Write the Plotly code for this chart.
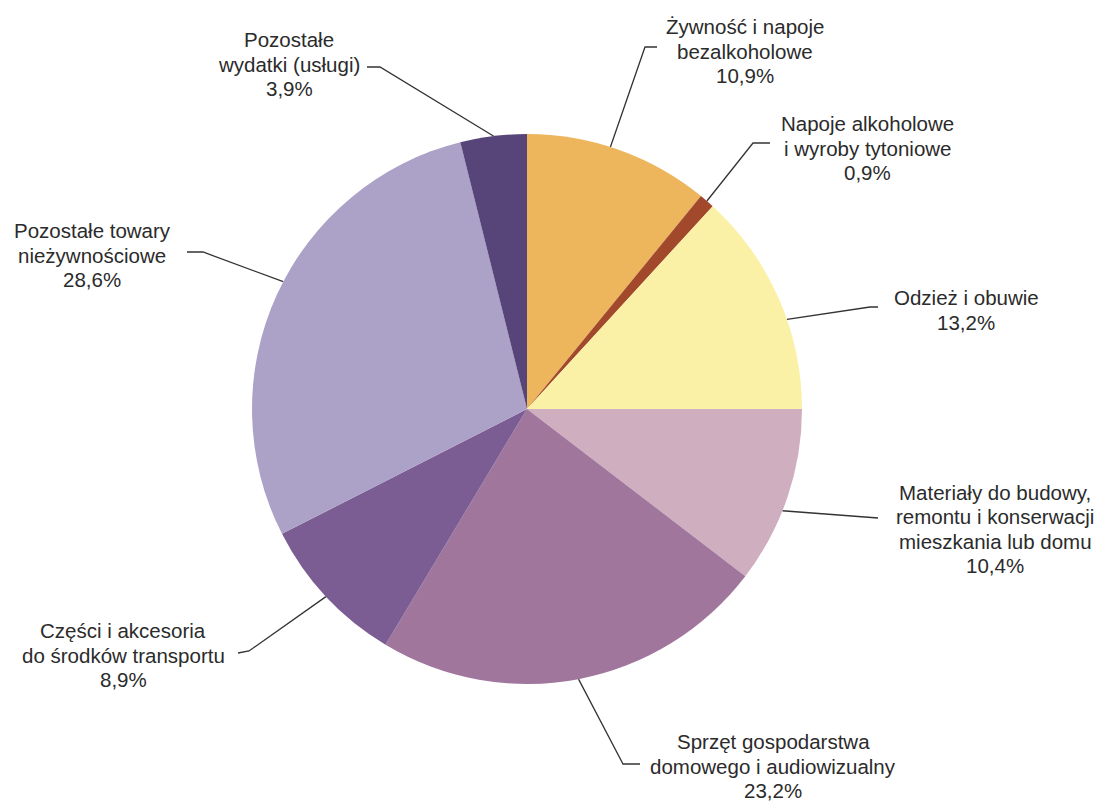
import math
import plotly.graph_objects as go

# ---- data ----
categories = [
    "Żywność i napoje<br>bezalkoholowe",
    "Napoje alkoholowe<br>i wyroby tytoniowe",
    "Odzież i obuwie",
    "Materiały do budowy,<br>remontu i konserwacji<br>mieszkania lub domu",
    "Sprzęt gospodarstwa<br>domowego i audiowizualny",
    "Części i akcesoria<br>do środków transportu",
    "Pozostałe towary<br>nieżywnościowe",
    "Pozostałe<br>wydatki (usługi)",
]
values = [10.9, 0.9, 13.2, 10.4, 23.2, 8.9, 28.6, 3.9]

# ---- style / layout ----
colors = ["#EDB55C", "#A2492B", "#FBF1A6", "#CFAEBF", "#A0769D", "#7B5D94", "#ACA1C7", "#574479"]
W, H = 1102, 802          # screen size
OFF = 8                   # default page body margin
FW, FH = W - OFF, H - OFF  # figure size
CX, CY, R = 527, 409, 275  # pie centre / radius in screen pixels
FONT = "Arial, Liberation Sans, sans-serif"
FSIZE = 20.5
LINE_H = 24.5
TXT_COLOR = "#2b2b2b"

# label centres and leader-line elbow / end points (screen pixels)
label_pos = [(745, 51), (867, 148), (966, 310), (995, 529), (773, 766), (123, 655), (92, 255), (289, 64)]
elbows = [(645, 47), (753, 143), (870, 307), (870, 517), (623, 764), (249, 651), (203, 252), (380, 67)]
ends = [(657, 47), (770, 143), (878, 307), (878, 518), (640, 764), (238, 653), (187, 252), (367, 67)]
anchor_frac = [0.45, 0.5, 0.6, 0.58, 0.5, 0.5, 0.53, 0.5]

fig = go.Figure()

cyf = CY - OFF
fig.add_trace(go.Pie(
    labels=[c.replace("<br>", " ") for c in categories],
    values=values,
    sort=False,
    direction="clockwise",
    rotation=0,
    textinfo="none",
    hoverinfo="label+percent",
    marker=dict(colors=colors, line=dict(width=0)),
    showlegend=False,
    domain=dict(x=[(CX - OFF - R) / FW, (CX - OFF + R) / FW],
                y=[(FH - cyf - R) / FH, (FH - cyf + R) / FH]),
))

total = sum(values)
cum = 0.0
annotations = []
for i, (cat, v) in enumerate(zip(categories, values)):
    ang = 2 * math.pi * (cum + anchor_frac[i] * v) / total
    cum += v
    ex = CX + R * math.sin(ang)
    ey = CY - R * math.cos(ang)
    fig.add_trace(go.Scatter(
        x=[ex, elbows[i][0], ends[i][0]],
        y=[ey, elbows[i][1], ends[i][1]],
        mode="lines",
        line=dict(color="#333333", width=1.3),
        hoverinfo="skip",
        showlegend=False,
    ))
    lines = cat.split("<br>") + [f"{v:.1f}".replace(".", ",") + "%"]
    n = len(lines)
    lx, ly = label_pos[i]
    for j, t in enumerate(lines):
        annotations.append(dict(
            x=lx, y=ly + (j - (n - 1) / 2) * LINE_H,
            xref="x", yref="y",
            text=t, showarrow=False,
            xanchor="center", yanchor="middle",
            font=dict(family=FONT, size=FSIZE, color=TXT_COLOR),
        ))

fig.update_layout(
    width=FW, height=FH,
    margin=dict(l=0, r=0, t=0, b=0),
    paper_bgcolor="white",
    plot_bgcolor="rgba(0,0,0,0)",
    xaxis=dict(range=[OFF, W], visible=False, domain=[0, 1], fixedrange=True),
    yaxis=dict(range=[H, OFF], visible=False, domain=[0, 1], fixedrange=True),
    annotations=annotations,
)

fig.write_html("out.html")
